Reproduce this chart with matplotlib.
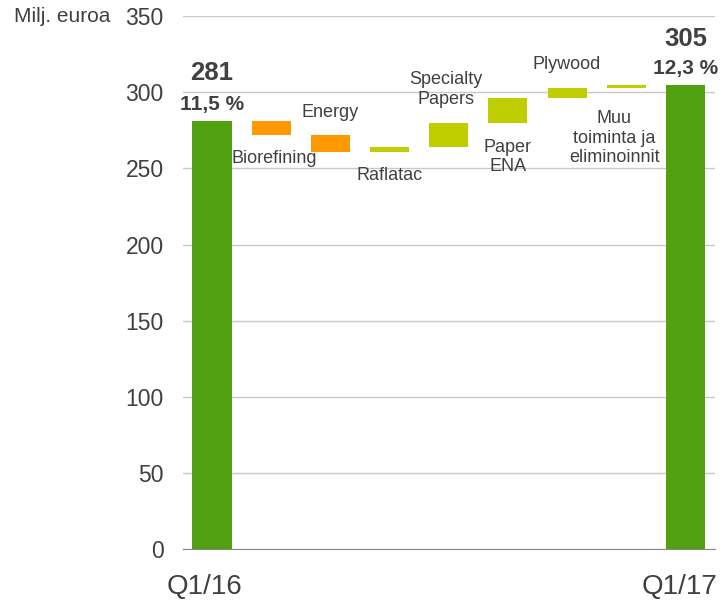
import matplotlib.pyplot as plt

# tulosvaikutukset, milj. euroa
alku = 281
loppu = 305
nimet = ['Biorefining', 'Energy', 'Raflatac', 'Specialty\nPapers', 'Paper\nENA', 'Plywood',
         'Muu\ntoiminta ja\neliminoinnit']
muutokset = [-9, -11, 3, 16, 16, 7, 2]
otsikot = ['Q1/16', 'Q1/17']
prosentit = ['11,5 %', '12,3 %']
# label above (True) or below (False) the floating bar
ylhaalla = [False, True, False, True, False, True, False]
# etäisyys palkista tekstin keskikohtaan
vali = [15.5, 14.5, 15.5, 22, 22.5, 15.5, 33]
siirto = [0.05, 0, 0, -0.05, 0, 0, -0.2]

vihrea = '#50a010'
oranssi = '#ff9900'
lime = '#bfce00'
harmaa = '#404040'

plt.rcParams['font.family'] = ['Liberation Sans', 'DejaVu Sans']

fig = plt.figure(figsize=(7.25, 6.02), dpi=100)
ax = fig.add_axes([0.2524, 0.088, 0.7338, 0.885])

leveys = 0.66
ax.bar(0, alku, width=leveys, color=vihrea, zorder=3)
taso = alku
for i, d in enumerate(muutokset):
    x = i + 1
    vari = oranssi if d < 0 else lime
    ala = taso + min(d, 0)
    ax.bar(x, abs(d), bottom=ala, width=leveys, color=vari, zorder=3)
    if ylhaalla[i]:
        y = ala + abs(d) + vali[i]
    else:
        y = ala - vali[i]
    ax.text(x + siirto[i], y, nimet[i], ha='center', va='center', fontsize=13, color=harmaa,
            linespacing=1.2, zorder=4)
    taso += d
n = len(muutokset) + 1
ax.bar(n, loppu, width=leveys, color=vihrea, zorder=3)

ax.text(0, 313, str(alku), ha='center', va='center', fontsize=18.5, fontweight='bold', color=harmaa)
ax.text(0, 292, prosentit[0], ha='center', va='center', fontsize=15, fontweight='bold', color=harmaa, zorder=4)
ax.text(n, 335, str(loppu), ha='center', va='center', fontsize=18.5, fontweight='bold', color=harmaa)
ax.text(n, 315.5, prosentit[1], ha='center', va='center', fontsize=15, fontweight='bold', color=harmaa)

ax.set_ylim(0, 350)
ax.set_xlim(-0.49, 8.5)
ax.set_yticks(range(0, 351, 50))
ax.set_xticks([-0.12, n - 0.1])
ax.set_xticklabels(otsikot)
ax.tick_params(axis='y', length=0, labelsize=16.5, labelcolor=harmaa, pad=14)
ax.tick_params(axis='x', length=0, labelsize=20, labelcolor=harmaa, pad=18)
ax.grid(axis='y', color='#c8c8c8', linewidth=1, zorder=0)
for s in ['top', 'right', 'left']:
    ax.spines[s].set_visible(False)
ax.spines['bottom'].set_color('#888888')
ax.spines['bottom'].set_zorder(5)

fig.text(0.019, 0.973, 'Milj. euroa', fontsize=15, color=harmaa, va='center')

fig.savefig('out.png')
